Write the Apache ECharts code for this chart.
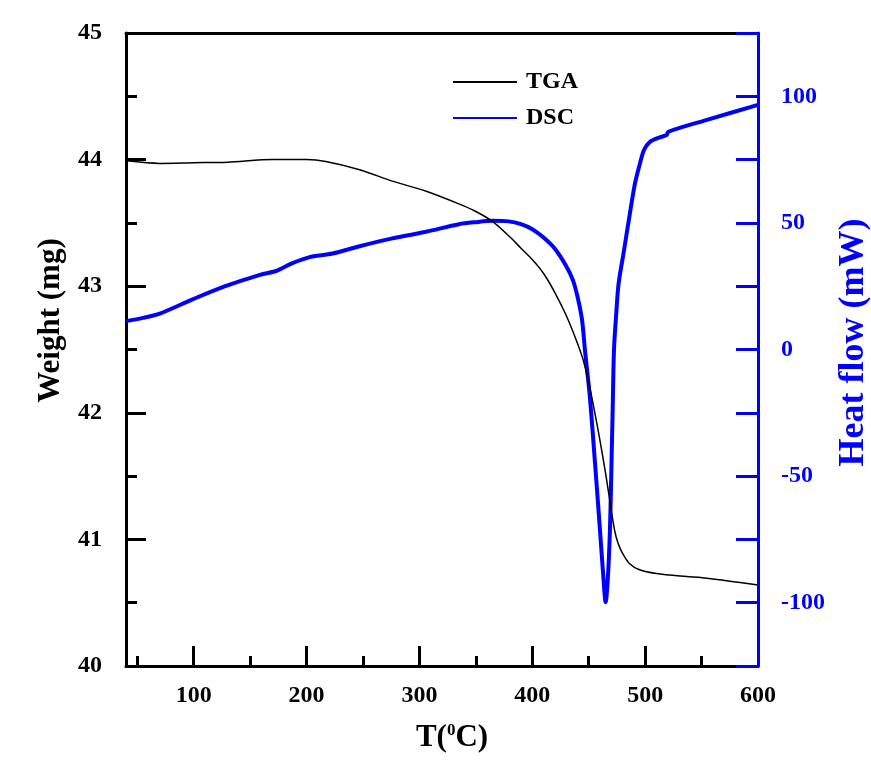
<!DOCTYPE html>
<html>
<head>
<meta charset="utf-8">
<script src="https://cdn.jsdelivr.net/npm/echarts@6/dist/echarts.min.js"></script>
<style>
html,body{margin:0;padding:0;background:#fff;}
#chart{width:871px;height:769px;}
</style>
</head>
<body>
<div id="chart"></div>
<script>
// ---- data ----
var tgaT = [40, 70, 100, 130, 170, 200, 217, 247, 276, 306, 335, 350, 365, 380, 390, 400, 410, 420, 430, 440, 445, 450, 455, 460, 465, 470, 473, 476, 480, 486, 495, 510, 531, 549, 575, 600];
var tgaW = [43.99, 43.97, 43.975, 43.98, 44.0, 44.0, 43.985, 43.92, 43.83, 43.75, 43.65, 43.59, 43.51, 43.39, 43.30, 43.21, 43.10, 42.95, 42.77, 42.55, 42.42, 42.24, 42.02, 41.78, 41.52, 41.23, 41.07, 40.97, 40.89, 40.81, 40.76, 40.73, 40.71, 40.70, 40.67, 40.64];

var dscT = [40, 55, 70, 99, 128, 158, 173, 187, 202, 223, 247, 276, 306, 335, 350, 365, 379, 390, 400, 410, 420, 430, 436, 440, 443.7, 445.1, 446.6, 451, 455.6, 460, 463, 465, 467, 468.8, 470.2, 471.4, 472.4, 474.2, 476.5, 481.3, 486, 491, 495.4, 499, 504.3, 513, 519, 520.5, 554, 600];
var dscH = [11.2, 12.5, 14.2, 19.8, 25, 29.4, 31, 34, 36.4, 37.9, 40.8, 43.9, 46.5, 49.5, 50.3, 50.8, 50.6, 49.5, 47.5, 44.2, 39.8, 33, 27.4, 21, 12.9, 7.6, 0, -18.7, -45, -71.4, -90, -99.8, -90, -71.4, -45, -20, 0, 12.9, 26.1, 39.2, 52.4, 65.6, 73.5, 78.8, 82, 83.8, 84.7, 86, 90.6, 96.6];

var xMajorTicks = [100, 200, 300, 400, 500, 600];
var xMinorTicks = [50, 150, 250, 350, 450, 550];
var seriesNames = ['TGA', 'DSC'];

var FONT = "'Liberation Serif', 'Times New Roman', serif";
var BLUE = '#0000ff';

function pairs(xs, ys) { return xs.map(function (x, i) { return [x, ys[i]]; }); }

var chart = echarts.init(document.getElementById('chart'), null, {renderer: 'canvas'});
chart.setOption({
  backgroundColor: '#ffffff',
  animation: false,
  grid: {left: 126, right: 113, top: 33, bottom: 103, containLabel: false, outerBoundsMode: 'none'},
  legend: {
    data: seriesNames,
    orient: 'vertical',
    left: 447,
    top: 65,
    padding: 5,
    itemWidth: 64,
    itemHeight: 14,
    itemGap: 12,
    itemStyle: {opacity: 0},
    textStyle: {fontFamily: FONT, fontSize: 24, fontWeight: 'bold', color: '#000', padding: [0, 0, 0, 4]}
  },
  xAxis: [
    {
      type: 'value', min: 40, max: 600, position: 'bottom',
      name: 'T({sup|0}C)', nameLocation: 'middle', nameGap: 56,
      nameTextStyle: {
        fontFamily: FONT, fontSize: 31, fontWeight: 'bold', color: '#000', padding: [0, 0, 0, 20],
        rich: {sup: {fontFamily: FONT, fontSize: 17, fontWeight: 'bold', color: '#000', padding: [0, 0, 14, 0]}}
      },
      axisLine: {show: true, onZero: false, lineStyle: {color: '#000', width: 3}},
      axisTick: {show: true, inside: true, length: 20, customValues: xMajorTicks, lineStyle: {color: '#000', width: 3}},
      axisLabel: {customValues: xMajorTicks, margin: 18, fontFamily: FONT, fontSize: 24, fontWeight: 'bold', color: '#000'},
      splitLine: {show: false}
    },
    {
      type: 'value', min: 40, max: 600, position: 'bottom',
      axisLine: {show: false, onZero: false},
      axisTick: {show: true, inside: true, length: 10, customValues: xMinorTicks, lineStyle: {color: '#000', width: 3}},
      axisLabel: {show: false},
      splitLine: {show: false}
    },
    {
      type: 'value', min: 40, max: 600, position: 'top',
      axisLine: {show: true, onZero: false, lineStyle: {color: '#000', width: 3}},
      axisTick: {show: false},
      axisLabel: {show: false},
      splitLine: {show: false}
    }
  ],
  yAxis: [
    {
      type: 'value', min: 40, max: 45, interval: 1, position: 'left',
      name: 'Weight (mg)', nameLocation: 'middle', nameGap: 60,
      nameTextStyle: {fontFamily: FONT, fontSize: 31, fontWeight: 'bold', color: '#000', padding: [0, 0, 0, 58]},
      axisLine: {show: true, onZero: false, lineStyle: {color: '#000', width: 3}},
      axisTick: {show: true, inside: true, length: 20, lineStyle: {color: '#000', width: 3}},
      minorTick: {show: true, splitNumber: 2, length: 11, lineStyle: {color: '#000', width: 3}},
      axisLabel: {margin: 24, fontFamily: FONT, fontSize: 24, fontWeight: 'bold', color: '#000'},
      splitLine: {show: false}
    },
    {
      type: 'value', min: -125, max: 125, interval: 25, position: 'right', z: 5,
      name: 'Heat flow (mW)', nameLocation: 'middle', nameGap: 71,
      nameTextStyle: {fontFamily: FONT, fontSize: 36, fontWeight: 'bold', color: BLUE, padding: [0, 0, 0, 14]},
      axisLine: {show: true, onZero: false, lineStyle: {color: BLUE, width: 3}},
      axisTick: {show: true, inside: true, length: 22, lineStyle: {color: BLUE, width: 3}},
      axisLabel: {
        margin: 23, fontFamily: FONT, fontSize: 24, fontWeight: 'bold', color: BLUE,
        formatter: function (v) { return (v % 50 === 0) ? String(v) : ''; }
      },
      splitLine: {show: false}
    }
  ],
  series: [
    {
      name: 'TGA', type: 'line', xAxisIndex: 0, yAxisIndex: 0,
      data: pairs(tgaT, tgaW), symbol: 'none', smooth: 0.3,
      lineStyle: {color: '#000', width: 1.5}, itemStyle: {color: '#000'}, z: 3
    },
    {
      name: 'DSC', type: 'line', xAxisIndex: 0, yAxisIndex: 1,
      data: pairs(dscT, dscH), symbol: 'none', smooth: 0.3,
      lineStyle: {color: BLUE, width: 4}, itemStyle: {color: BLUE}, z: 2
    }
  ]
});
</script>
</body>
</html>
